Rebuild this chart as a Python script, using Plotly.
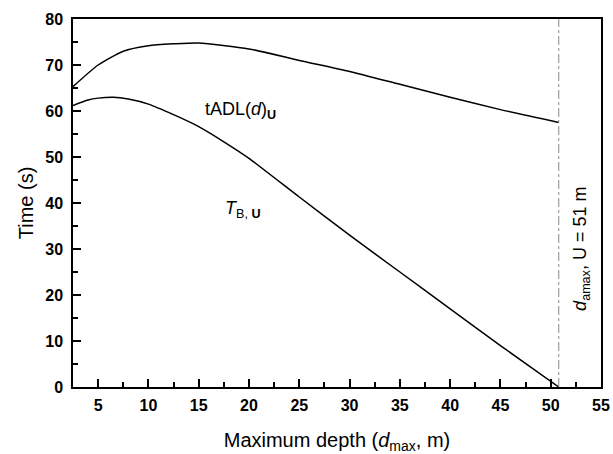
import plotly.graph_objects as go

# Data
depth_tadl = [2.5, 5, 7.5, 10, 12.5, 15, 20, 25, 30, 35, 40, 45, 50.8]
tadl = [65.3, 70.0, 73.0, 74.2, 74.6, 74.8, 73.5, 71.0, 68.6, 65.8, 63.0, 60.3, 57.5]

depth_tb = [2.5, 4, 5, 6.5, 8, 10, 12.5, 15, 17.5, 20, 25, 30, 35, 40, 45, 50.8]
tb = [61.2, 62.4, 62.8, 63.0, 62.6, 61.5, 59.2, 56.6, 53.3, 49.7, 41.3, 33.0, 25.0, 17.0, 9.0, 0.0]

d_amax = 50.8
x_ticks = [5, 10, 15, 20, 25, 30, 35, 40, 45, 50, 55]
y_ticks = [0, 10, 20, 30, 40, 50, 60, 70, 80]

FONT = "Arial, Liberation Sans, sans-serif"

fig = go.Figure()
fig.add_trace(go.Scatter(x=depth_tadl, y=tadl, mode="lines", line=dict(color="black", width=1.5, shape="spline", smoothing=0.6), showlegend=False))
fig.add_trace(go.Scatter(x=depth_tb, y=tb, mode="lines", line=dict(color="black", width=1.5, shape="spline", smoothing=0.6), showlegend=False))
fig.add_trace(go.Scatter(x=[d_amax, d_amax], y=[0, 80], mode="lines", line=dict(color="#888888", width=1, dash="dashdot"), showlegend=False))

fig.add_annotation(x=19.2, y=60.2, text="tADL(<i>d</i>)<sub><b>U</b></sub>", showarrow=False, font=dict(family=FONT, size=18, color="black"))
fig.add_annotation(x=19.4, y=38.5, text="<i>T</i><sub>B, <b>U</b></sub>", showarrow=False, font=dict(family=FONT, size=18, color="black"))
fig.add_annotation(x=53.0, y=30, text="<i>d</i><sub>amax</sub>, U = 51 m", textangle=-90, showarrow=False, font=dict(family=FONT, size=18, color="black"))

axis_common = dict(showgrid=False, zeroline=False, showline=True, linecolor="black", linewidth=1.5, mirror=True,
                   ticks="inside", tickcolor="black", tickwidth=1.5, ticklen=8,
                   tickfont=dict(family=FONT, size=16, color="black", weight="bold"))

fig.update_xaxes(range=[2.5, 55], tickvals=x_ticks, ticklabelstandoff=3,
                 minor=dict(ticks="inside", dtick=2.5, tick0=0, ticklen=5, tickcolor="black", tickwidth=1.5),
                 title=dict(text="Maximum depth (<i>d</i><sub>max</sub>, m)", font=dict(family=FONT, size=20, color="black"), standoff=27),
                 **axis_common)
fig.update_yaxes(range=[0, 80], tickvals=y_ticks, ticklabelstandoff=5,
                 minor=dict(ticks="inside", dtick=5, tick0=0, ticklen=5, tickcolor="black", tickwidth=1.5),
                 title=dict(text="Time (s)", font=dict(family=FONT, size=20, color="black"), standoff=6),
                 **axis_common)

fig.update_layout(width=613, height=454, margin=dict(l=73, r=12, t=19, b=67, autoexpand=False),
                  plot_bgcolor="white", paper_bgcolor="white")

fig.write_html("out.html", config={"displayModeBar": False},
               post_script="document.body.style.margin='0';document.body.style.overflow='hidden';")
